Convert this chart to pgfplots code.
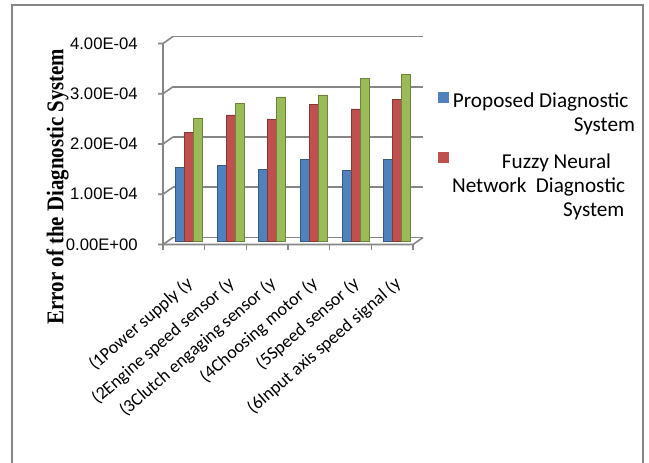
\documentclass[border=0pt]{standalone}
\usepackage{fontspec}
\setmainfont{Liberation Serif}
\newfontfamily\calibri{Carlito}
\newfontfamily\arial{Liberation Sans}
\usepackage{graphicx}
\usepackage{pgfplots}
\pgfplotsset{compat=1.18}
\definecolor{cblue}{HTML}{4F81BD}
\definecolor{cred}{HTML}{C0504D}
\definecolor{cgreen}{HTML}{9BBB59}
\definecolor{cgrid}{HTML}{868686}
\begin{document}
\begin{tikzpicture}[x=0.75pt,y=0.75pt]
\path[use as bounding box] (0,0) rectangle (649,463);
\draw[cgrid, line width=1.5pt] (12,-10) rectangle (643,458);
\begin{axis}[
  at={(126pt,166.5pt)}, anchor=south west,
  width=187.5pt, height=150.75pt, scale only axis,
  xmin=-0.5, xmax=5.5, ymin=0, ymax=4e-4,
  clip=false,
  axis line style={draw=none},
  ybar=0pt, bar width=6.75pt,
  major tick length=0pt,
  scaled y ticks=false,
  xtick={0,1,2,3,4,5},
  xticklabels={{(1Power supply (y},{(2Engine speed sensor (y},{(3Clutch engaging sensor (y},{(4Choosing motor (y},{(5Speed sensor (y},{(6Input axis speed signal (y}},
  xticklabel style={xshift=-3pt, yshift=-25.5pt, rotate=41, anchor=north east, inner sep=0pt, font=\calibri\fontsize{13.5}{15}\selectfont},
  ytick={0,1e-4,2e-4,3e-4,4e-4},
  yticklabels={0.00E+00,1.00E-04,2.00E-04,3.00E-04,4.00E-04},
  yticklabel style={font=\arial\fontsize{12.5}{14}\selectfont, anchor=east, inner sep=0pt, xshift=-22.5pt, yshift=-2.6pt},
  ylabel={\scalebox{0.87}[1]{Error of the Diagnostic System}},
  ylabel style={font=\bfseries\fontsize{18}{20}\selectfont, at={(axis description cs:-0.442,0.271)}, anchor=center},
  legend style={at={(axis description cs:1.88,0.751)}, anchor=north east, draw=none, fill=none, inner sep=0pt, row sep=29pt, font=\calibri\fontsize{15.9}{18}\selectfont},
  legend cell align=right,
  legend image code/.code={\path[#1, draw=none] (0pt,-1pt) rectangle (8.25pt,7.25pt);},
]
% back wall gridlines and 3D frame
\draw[cgrid, line width=1.2pt] (axis cs:-0.38,7e-6) -- (axis cs:5.62,7e-6);
\draw[cgrid, line width=1.2pt] (axis cs:-0.38,1.07e-4) -- (axis cs:5.62,1.07e-4);
\draw[cgrid, line width=1.2pt] (axis cs:-0.38,2.07e-4) -- (axis cs:5.62,2.07e-4);
\draw[cgrid, line width=1.2pt] (axis cs:-0.38,3.07e-4) -- (axis cs:5.62,3.07e-4);
\draw[cgrid, line width=1.2pt] (axis cs:-0.38,4.07e-4) -- (axis cs:5.62,4.07e-4);
\draw[cgrid, line width=1.2pt] (axis cs:-0.74,-7e-6) -- (axis cs:-0.62,-7e-6) -- (axis cs:-0.38,7e-6);
\draw[cgrid, line width=1.2pt] (axis cs:-0.74,0.93e-4) -- (axis cs:-0.62,0.93e-4) -- (axis cs:-0.38,1.07e-4);
\draw[cgrid, line width=1.2pt] (axis cs:-0.74,1.93e-4) -- (axis cs:-0.62,1.93e-4) -- (axis cs:-0.38,2.07e-4);
\draw[cgrid, line width=1.2pt] (axis cs:-0.74,2.93e-4) -- (axis cs:-0.62,2.93e-4) -- (axis cs:-0.38,3.07e-4);
\draw[cgrid, line width=1.2pt] (axis cs:-0.74,3.93e-4) -- (axis cs:-0.62,3.93e-4) -- (axis cs:-0.38,4.07e-4);
\draw[cgrid, line width=1.2pt] (axis cs:-0.62,-7e-6) -- (axis cs:-0.62,3.93e-4);
\draw[cgrid, line width=1.2pt] (axis cs:-0.62,-7e-6) -- (axis cs:5.38,-7e-6) -- (axis cs:5.62,7e-6);
\draw[cgrid, line width=1.2pt] (axis cs:-0.62,-7e-6) -- (axis cs:-0.62,-1.7e-5);
\draw[cgrid, line width=1.2pt] (axis cs:0.38,-7e-6) -- (axis cs:0.38,-1.7e-5);
\draw[cgrid, line width=1.2pt] (axis cs:1.38,-7e-6) -- (axis cs:1.38,-1.7e-5);
\draw[cgrid, line width=1.2pt] (axis cs:2.38,-7e-6) -- (axis cs:2.38,-1.7e-5);
\draw[cgrid, line width=1.2pt] (axis cs:3.38,-7e-6) -- (axis cs:3.38,-1.7e-5);
\draw[cgrid, line width=1.2pt] (axis cs:4.38,-7e-6) -- (axis cs:4.38,-1.7e-5);
\draw[cgrid, line width=1.2pt] (axis cs:5.38,-7e-6) -- (axis cs:5.38,-1.7e-5);
\addplot[fill=cblue, draw=cblue!70!black, line width=0.4pt]
  coordinates {(0,1.46e-4) (1,1.50e-4) (2,1.42e-4) (3,1.62e-4) (4,1.41e-4) (5,1.63e-4)};
\addlegendentry{\parbox[t]{137.25pt}{\raggedleft Proposed Diagnostic\kern5pt\\System}}
\addplot[fill=cred, draw=cred!70!black, line width=0.4pt]
  coordinates {(0,2.16e-4) (1,2.51e-4) (2,2.42e-4) (3,2.72e-4) (4,2.63e-4) (5,2.82e-4)};
\addlegendentry{\parbox[t]{137.25pt}{\raggedleft Fuzzy Neural\kern18pt\\Network\ \ Diagnostic\kern7.5pt\\System\kern8pt}}
\addplot[fill=cgreen, draw=cgreen!70!black, line width=0.4pt]
  coordinates {(0,2.45e-4) (1,2.74e-4) (2,2.87e-4) (3,2.91e-4) (4,3.24e-4) (5,3.32e-4)};
\end{axis}
\end{tikzpicture}
\end{document}
